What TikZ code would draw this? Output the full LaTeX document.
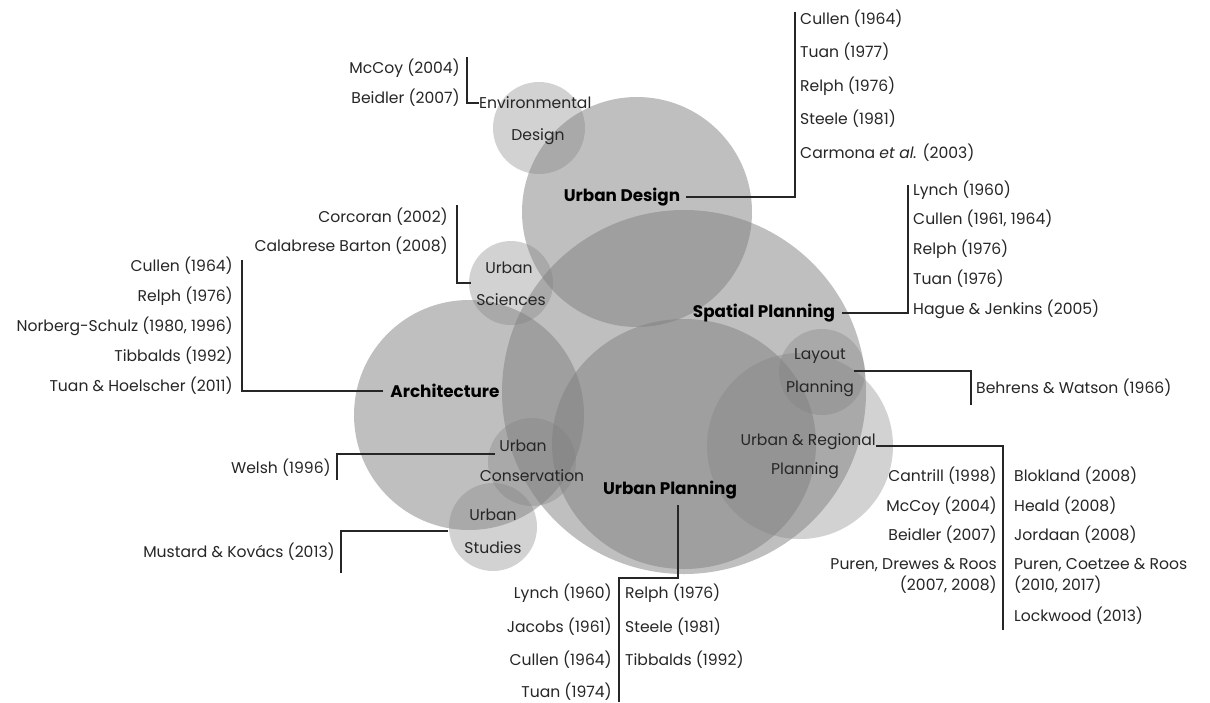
\documentclass[tikz,border=0pt]{standalone}
\usepackage{fontspec}
\setmainfont{Poppins}
\begin{document}
\begin{tikzpicture}[x=1pt,y=-1pt,
  txt/.style={inner sep=0pt,text=black!85,font=\fontsize{15.6}{17}\selectfont},
  hd/.style={inner sep=0pt,text=black,font=\fontsize{16.8}{18}\selectfont\bfseries},
  big/.style={fill=black!50,fill opacity=0.5,draw=none},
  small/.style={fill=black!50,fill opacity=0.35,draw=none},
  lead/.style={draw=black!85,line width=1.4pt}]
\useasboundingbox (0,0) rectangle (1210,702);
\fill[white] (0,0) rectangle (1210,702);

% discipline circles
\fill[big] (684,392) circle (182);   % spatial planning
\fill[big] (637,212) circle (115);   % urban design
\fill[big] (469,415) circle (115);   % architecture
\fill[big] (684,444) ellipse (132 and 125);   % urban planning
\fill[small] (800,446) circle (93);  % urban & regional planning
\fill[small] (539,128) circle (46);  % environmental design
\fill[small] (511,283) circle (42);  % urban sciences
\fill[small] (532,462) circle (44);  % urban conservation
\fill[small] (493,527) circle (44);  % urban studies
\fill[small] (822,372) circle (43);  % layout planning

% ---------- Environmental Design ----------
\node[txt,anchor=west] (envA) at (479,103) {Environmental};
\node[txt] (envB) at (538,137) {Design};
\node[txt,anchor=east] (envR1) at (460,68) {McCoy (2004)};
\node[txt,anchor=east] (envR2) at (460,98) {Beidler (2007)};
\coordinate (envTop) at (467,57);
\draw[lead] (envTop) |- (envA.west);

% ---------- Urban Design ----------
\node[hd] (ud) at (622,197) {Urban Design};
\coordinate (udTop) at (795,12);
\draw[lead] ([xshift=6pt]ud.east) -| (udTop);
\node[txt,anchor=west] (udR1) at (800,19) {Cullen (1964)};
\node[txt,anchor=west] (udR2) at (800,52) {Tuan (1977)};
\node[txt,anchor=west] (udR3) at (800,86) {Relph (1976)};
\node[txt,anchor=west] (udR4) at (800,119) {Steele (1981)};
\node[txt,anchor=west] (udR5) at (800,153) {Carmona \textit{et al.} (2003)};

% ---------- Spatial Planning ----------
\node[hd] (sp) at (764,313) {Spatial Planning};
\coordinate (spTop) at (908,185);
\draw[lead] ([xshift=7pt]sp.east) -| (spTop);
\node[txt,anchor=west] (spR1) at (913,190) {Lynch (1960)};
\node[txt,anchor=west] (spR2) at (913,219) {Cullen (1961, 1964)};
\node[txt,anchor=west] (spR3) at (913,249) {Relph (1976)};
\node[txt,anchor=west] (spR4) at (913,279) {Tuan (1976)};
\node[txt,anchor=west] (spR5) at (913,309) {Hague \& Jenkins (2005)};

% ---------- Urban Sciences ----------
\node[txt] (usA) at (509,268) {Urban};
\node[txt] (usB) at (511,300) {Sciences};
\node[txt,anchor=east] (usR1) at (448,217) {Corcoran (2002)};
\node[txt,anchor=east] (usR2) at (448,246) {Calabrese Barton (2008)};
\coordinate (usTop) at (457,205);
\coordinate (usEnd) at (471,283);
\draw[lead] (usTop) |- (usEnd);

% ---------- Architecture ----------
\node[hd] (ar) at (445,391) {Architecture};
\coordinate (arTop) at (242,260);
\draw[lead] ([xshift=-7pt]ar.west) -| (arTop);
\node[txt,anchor=east] (arR1) at (233,266) {Cullen (1964)};
\node[txt,anchor=east] (arR2) at (233,296) {Relph (1976)};
\node[txt,anchor=east] (arR3) at (233,326) {Norberg-Schulz (1980, 1996)};
\node[txt,anchor=east] (arR4) at (233,356) {Tibbalds (1992)};
\node[txt,anchor=east] (arR5) at (233,386) {Tuan \& Hoelscher (2011)};

% ---------- Urban Conservation ----------
\node[txt] (ucA) at (523,446) {Urban};
\node[txt] (ucB) at (532,476) {Conservation};
\coordinate (ucBot) at (337,480);
\coordinate (ucStart) at (495,454);
\draw[lead] (ucStart) -| (ucBot);
\node[txt,anchor=east] (ucR1) at (331,468) {Welsh (1996)};

% ---------- Urban Studies ----------
\node[txt] (ustA) at (493,515) {Urban};
\node[txt] (ustB) at (493,548) {Studies};
\coordinate (ustStart) at (448,531);
\coordinate (ustBot) at (341,573);
\draw[lead] (ustStart) -| (ustBot);
\node[txt,anchor=east] (ustR1) at (335,552) {Mustard \& Kov\'acs (2013)};

% ---------- Layout Planning ----------
\node[txt] (lpA) at (820,356) {Layout};
\node[txt] (lpB) at (820,389) {Planning};
\coordinate (lpStart) at (854,371);
\coordinate (lpBot) at (971,405);
\draw[lead] (lpStart) -| (lpBot);
\node[txt,anchor=west] (lpR1) at (976,388) {Behrens \& Watson (1966)};

% ---------- Urban & Regional Planning ----------
\node[txt,anchor=east] (urA) at (876,442) {Urban \& Regional};
\node[txt] (urB) at (805,471) {Planning};
\coordinate (urBot) at (1003,630);
\draw[lead] (urA.east) ++(0,4) -| (urBot);
\node[txt,anchor=east] (urL1) at (997,476) {Cantrill (1998)};
\node[txt,anchor=east] (urL2) at (997,506) {McCoy (2004)};
\node[txt,anchor=east] (urL3) at (997,535) {Beidler (2007)};
\node[txt,anchor=east] (urL4) at (997,565) {Puren, Drewes \& Roos};
\node[txt,anchor=east] (urL5) at (997,585) {(2007, 2008)};
\node[txt,anchor=west] (urR1) at (1014,476) {Blokland (2008)};
\node[txt,anchor=west] (urR2) at (1014,506) {Heald (2008)};
\node[txt,anchor=west] (urR3) at (1014,535) {Jordaan (2008)};
\node[txt,anchor=west] (urR4) at (1014,565) {Puren, Coetzee \& Roos};
\node[txt,anchor=west] (urR5) at (1014,585) {(2010, 2017)};
\node[txt,anchor=west] (urR6) at (1014,616) {Lockwood (2013)};

% ---------- Urban Planning ----------
\node[hd] (up) at (670,490) {Urban Planning};
\coordinate (upStart) at (678,505);
\coordinate (upBend) at (678,578);
\coordinate (upBot) at (619,702);
\draw[lead] (upStart) -- (upBend) -| (upBot);
\node[txt,anchor=east] (upL1) at (612,593) {Lynch (1960)};
\node[txt,anchor=east] (upL2) at (612,627) {Jacobs (1961)};
\node[txt,anchor=east] (upL3) at (612,660) {Cullen (1964)};
\node[txt,anchor=east] (upL4) at (612,692) {Tuan (1974)};
\node[txt,anchor=west] (upR1) at (625,593) {Relph (1976)};
\node[txt,anchor=west] (upR2) at (625,627) {Steele (1981)};
\node[txt,anchor=west] (upR3) at (625,660) {Tibbalds (1992)};
\end{tikzpicture}
\end{document}
